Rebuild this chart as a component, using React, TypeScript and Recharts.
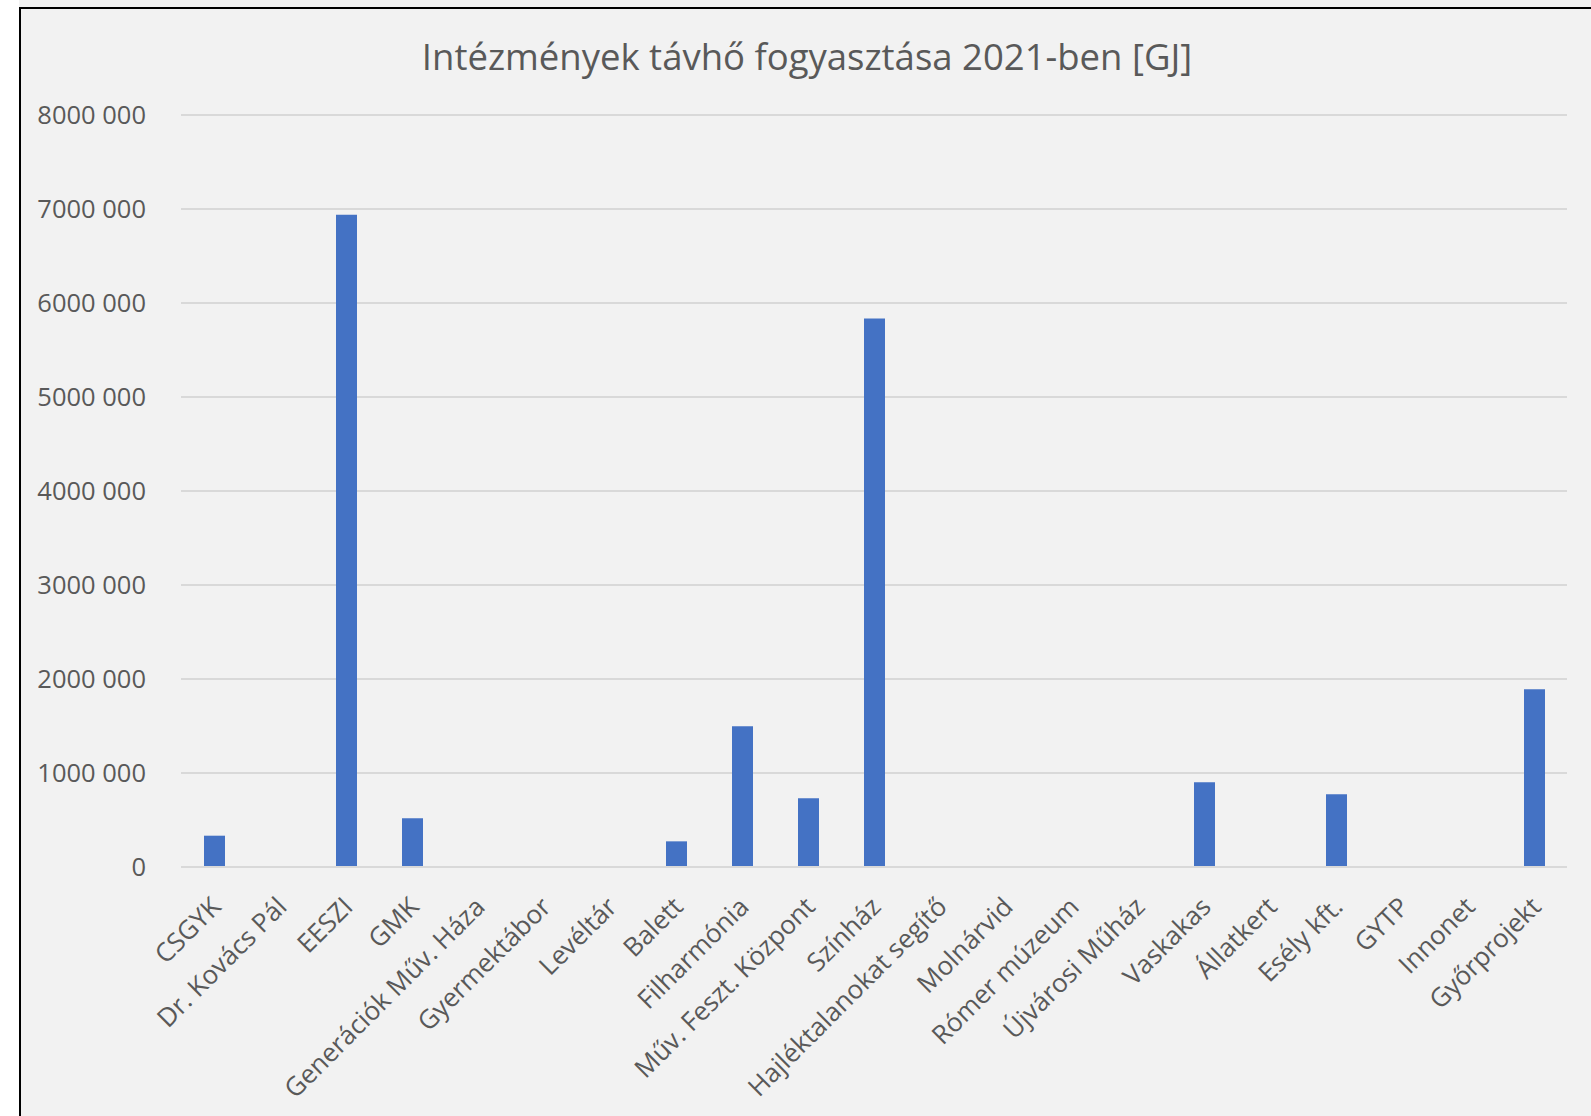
import { BarChart, Bar, XAxis, YAxis, CartesianGrid } from 'recharts';

const categories = [
  'CSGYK',
  'Dr. Kovács Pál',
  'EESZI',
  'GMK',
  'Generációk Műv. Háza',
  'Gyermektábor',
  'Levéltár',
  'Balett',
  'Filharmónia',
  'Műv. Feszt. Központ',
  'Színház',
  'Hajléktalanokat segítő',
  'Molnárvid',
  'Rómer múzeum',
  'Újvárosi Műház',
  'Vaskakas',
  'Állatkert',
  'Esély kft.',
  'GYTP',
  'Innonet',
  'Győrprojekt',
];

const consumption = [
  333000, 0, 6940000, 518000, 0, 0, 0, 273000, 1497000, 731000, 5834000, 0, 0, 0, 0,
  901000, 0, 773000, 0, 0, 1890000,
];

const yTicks = [0, 1000000, 2000000, 3000000, 4000000, 5000000, 6000000, 7000000, 8000000];
const yTickLabels = ['0', '1000 000', '2000 000', '3000 000', '4000 000', '5000 000', '6000 000', '7000 000', '8000 000'];

const title = 'Intézmények távhő fogyasztása 2021-ben [GJ]';

const data = categories.map((name, i) => ({ name, value: consumption[i] }));

const TEXT = '#595959';
const FONT = '"Open Sans", sans-serif';

interface TickProps {
  x?: number;
  y?: number;
  payload?: { value: string | number };
}

// rotated category labels, end of text hangs just right of the bar
const CategoryTick = ({ x = 0, y = 0, payload }: TickProps) => (
  <g transform={`translate(${x + 2},${y + 33})`}>
    <text transform="rotate(-45)" textAnchor="end" dy="0.35em" fill={TEXT} fontSize={26} fontFamily={FONT}>
      {payload?.value}
    </text>
  </g>
);

export default function App() {
  return (
    <div style={{ position: 'absolute', left: 0, top: 0, width: 1591, height: 1116, background: '#fff', overflow: 'hidden' }}>
      <div
        style={{
          position: 'absolute',
          left: 19,
          top: 0,
          width: 1572,
          height: 1116,
          background: '#f2f2f2',
        }}
      />
      <div
        style={{
          position: 'absolute',
          left: 19,
          top: 7,
          width: 1572,
          height: 1109,
          borderLeft: '2px solid #000',
          borderTop: '2px solid #000',
          background: '#f2f2f2',
        }}
      >
        <div
          style={{
            position: 'absolute',
            left: 0,
            top: 22,
            width: 1572,
            textAlign: 'center',
            fontFamily: FONT,
            fontSize: 36.5,
            color: TEXT,
          }}
        >
          {title}
        </div>
        <BarChart
          width={1570}
          height={1107}
          data={data}
          margin={{ top: 106, right: 24, bottom: 0, left: 0 }}
        >
          <CartesianGrid vertical={false} stroke="#d9d9d9" strokeWidth={2} />
          <XAxis
            dataKey="name"
            interval={0}
            height={249}
            tickLine={false}
            tickSize={0}
            axisLine={{ stroke: '#d9d9d9', strokeWidth: 2 }}
            tick={<CategoryTick />}
          />
          <YAxis
            domain={[0, 8000000]}
            ticks={yTicks}
            width={160}
            tickLine={false}
            tickSize={0}
            tickMargin={35}
            axisLine={false}
            tickFormatter={(v: number) => yTickLabels[yTicks.indexOf(v)]}
            tick={{ fill: TEXT, fontSize: 25.5, fontFamily: FONT }}
          />
          <Bar dataKey="value" fill="#4472c4" barSize={21} isAnimationActive={false} />
        </BarChart>
      </div>
    </div>
  );
}
